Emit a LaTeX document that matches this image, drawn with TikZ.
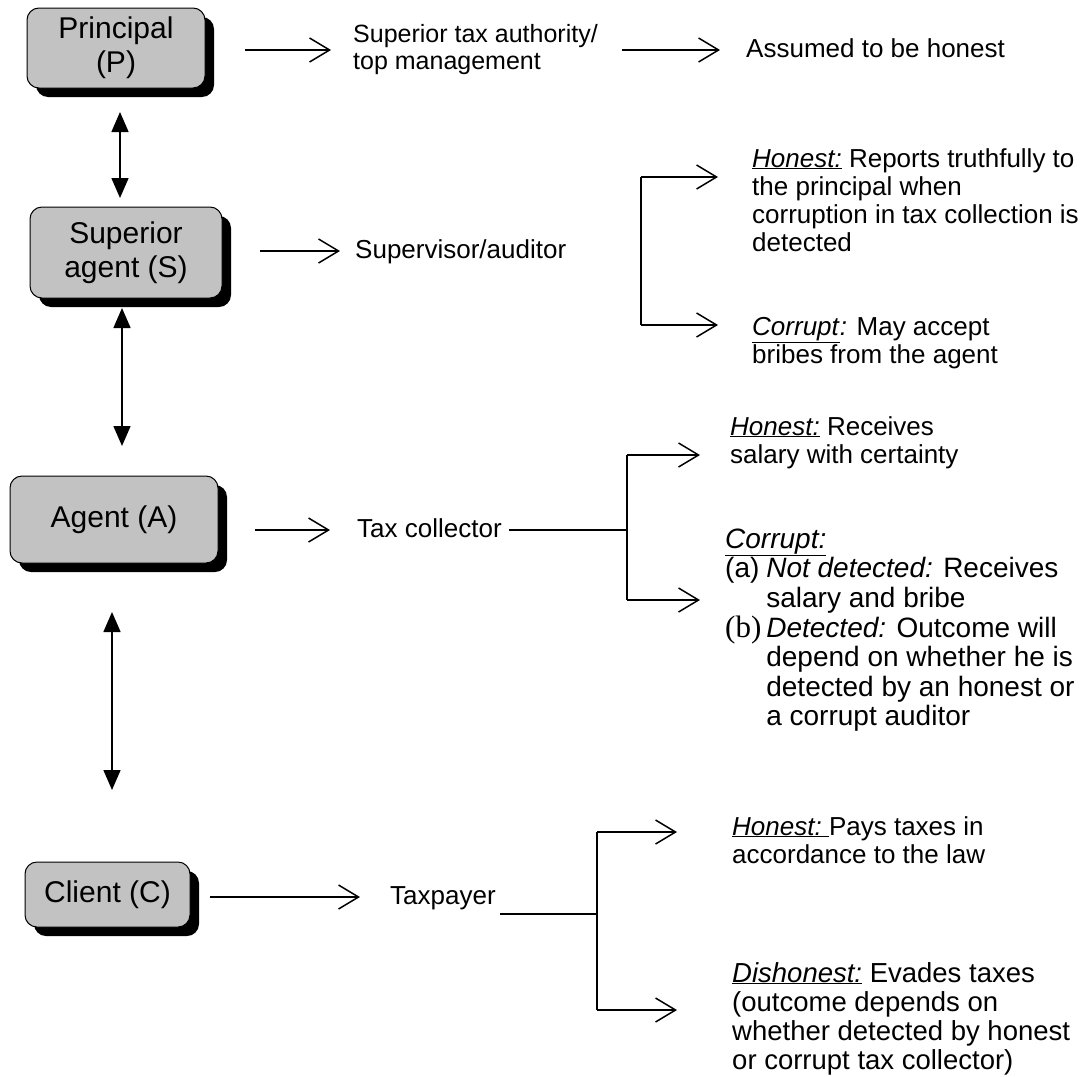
\documentclass[tikz,border=0pt]{standalone}
\usepackage{fontspec}
\setmainfont{Liberation Sans}
\newfontfamily\serifb{Liberation Serif}
\usetikzlibrary{arrows.meta,calc,shadows}
\newcommand\tl[1]{\begin{tabular}[t]{@{}l@{}}#1\end{tabular}}
\newcommand\lab[1]{\underline{\textit{#1}}}
\begin{document}
\begin{tikzpicture}[x=1pt,y=-1pt,
  box/.style={draw=black, line width=1pt, fill=black!24, rounded corners=12pt,
    align=center, inner sep=0pt, font=\fontsize{30}{34}\selectfont,
    drop shadow={shadow xshift=9pt, shadow yshift=-9pt, fill=black, opacity=1}},
  txt/.style={anchor=base west, inner sep=0pt, font=\fontsize{26}{28}\selectfont},
  openarr/.style={line width=1.5pt, -{Straight Barb[length=20pt,width=24pt,line width=1.5pt]}},
  plain/.style={line width=1.5pt},
  dbl/.style={line width=1.5pt, {Triangle[length=20pt,width=17pt]}-{Triangle[length=20pt,width=17pt]}}]
\fill[white] (0,0) rectangle (1089,1076);
\useasboundingbox (0,0) rectangle (1089,1076);

% boxes
\node[box, minimum width=178pt, minimum height=80pt] (P) at (116,48) {Principal\\(P)};
\node[box, minimum width=192pt, minimum height=91pt] (S) at (126,252.5) {Superior\\agent (S)};
\node[box, minimum width=208pt, minimum height=87pt] (A) at (114,519.5) {Agent (A)};
\node[box, minimum width=165pt, minimum height=65pt] (C) at (107.5,894.5) {\raisebox{6pt}{Client (C)}};

% texts
\node[txt, font=\fontsize{25}{27}\selectfont] (Pt) at (353,42) {\tl{Superior tax authority/\\top management}};
\node[txt] (Pa) at (746,57) {Assumed to be honest};
\node[txt] (St) at (355,258) {Supervisor/auditor};
\node[txt] (Sh) at (752,167) {\tl{\lab{Honest:} Reports truthfully to\\the principal when\\corruption in tax collection is\\detected}};
\node[txt] (Sc) at (752,335) {\tl{\underline{\textit{Corrupt}}\textit{:} May accept\\bribes from the agent}};
\node[txt] (At) at (357,537) {Tax collector};
\node[txt] (Ah) at (730,435) {\tl{\lab{Honest:} Receives\\salary with certainty}};
\node[txt, font=\fontsize{28}{29.5}\selectfont] (Ac) at (725,548) {\begin{tabular}[t]{@{}l@{\hspace{5pt}}l@{}}
\multicolumn{2}{@{}l@{}}{\lab{Corrupt:}}\\
(a) & \textit{Not detected:} Receives\\
    & salary and bribe\\
{\serifb\fontsize{31}{29.5}\selectfont (b)} & \textit{Detected:} Outcome will\\
    & depend on whether he is\\
    & detected by an honest or\\
    & a corrupt auditor
\end{tabular}};
\node[txt] (Ct) at (390,904) {Taxpayer};
\node[txt] (Ch) at (732,835) {\tl{\lab{Honest:\ }Pays taxes in\\accordance to the law}};
\node[txt, font=\fontsize{27.5}{29}\selectfont] (Cd) at (732,982) {\tl{\lab{Dishonest:} Evades taxes\\(outcome depends on\\whether detected by honest\\or corrupt tax collector)}};

% arrow end coordinates
\coordinate (p1) at (245,50);  \coordinate (p2) at (331,50);
\coordinate (p3) at (622,50);  \coordinate (p4) at (720,50);
\coordinate (s1) at (260,251); \coordinate (s2) at (340,251);
\coordinate (a1) at (255,530); \coordinate (a2) at (330,530);
\coordinate (c1) at (210,897); \coordinate (c2) at (360,897);

\draw[openarr] (p1) -- (p2);
\draw[openarr] (p3) -- (p4);
\draw[openarr] (s1) -- (s2);
\draw[openarr] (a1) -- (a2);
\draw[openarr] (c1) -- (c2);

% vertical double arrows
\coordinate (v1) at (120,112); \coordinate (v2) at (120,198);
\coordinate (v3) at (122,308); \coordinate (v4) at (122,446);
\coordinate (v5) at (112,612); \coordinate (v6) at (112,790);
\draw[dbl] (v1) -- (v2);
\draw[dbl] (v3) -- (v4);
\draw[dbl] (v5) -- (v6);

% bracket S
\coordinate (sbt) at (641,177); \coordinate (sbb) at (641,325);
\draw[plain] (sbt) -- (sbb);
\draw[openarr] (sbt) -- ++(77,0);
\draw[openarr] (sbb) -- ++(77,0);

% bracket A
\coordinate (abt) at (627,455); \coordinate (abb) at (627,600); \coordinate (abm) at (627,530);
\draw[plain] ($(At.base east)+(7,-7)$) -- (abm);
\draw[plain] (abt) -- (abb);
\draw[openarr] (abt) -- ++(73,0);
\draw[openarr] (abb) -- ++(73,0);

% bracket C
\coordinate (cbt) at (597,832); \coordinate (cbb) at (597,1010); \coordinate (cbm) at (597,914);
\draw[plain] ($(Ct.base east)+(4,10)$) -- (cbm);
\draw[plain] (cbt) -- (cbb);
\draw[openarr] (cbt) -- ++(80,0);
\draw[openarr] (cbb) -- ++(80,0);
\end{tikzpicture}
\end{document}
